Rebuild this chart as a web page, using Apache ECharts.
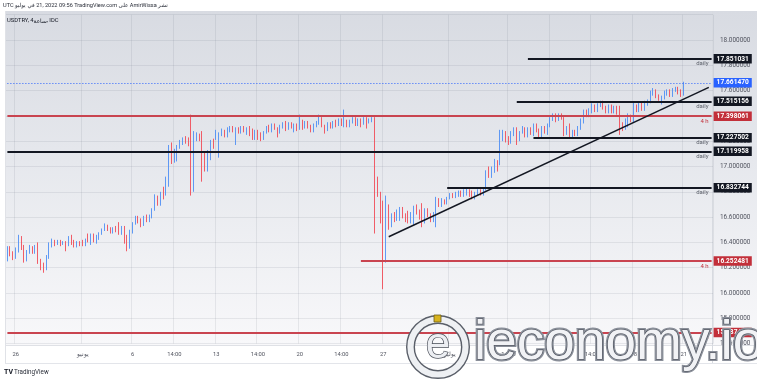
<!DOCTYPE html>
<html><head><meta charset="utf-8">
<script src="https://cdn.jsdelivr.net/npm/echarts@6/dist/echarts.min.js"></script>
<style>
html,body{margin:0;padding:0;background:#fff;}
#wrap{position:relative;width:757px;height:380px;overflow:hidden;background:#fff;}
#bg{position:absolute;left:5px;top:11px;width:752px;height:334px;background:linear-gradient(180deg,#d8dbe2 0%,#e6e8ed 45%,#f8f8fa 100%);}
#c{position:absolute;left:0;top:0;width:757px;height:380px;}
</style>
</head><body><div id="wrap"><div id="bg"></div><div id="c"></div></div>
<script>
// ---- data (4h candles, USDTRY) ----
const opens = [
16.27,16.35,16.31,16.29,16.34,16.42,16.36,16.28,16.33,16.36,
16.33,16.38,16.25,16.22,16.19,16.29,16.38,16.41,16.39,16.41,
16.39,16.40,16.38,16.44,16.40,16.37,16.40,16.41,16.38,16.46,
16.42,16.46,16.42,16.43,16.47,16.50,16.53,16.50,16.48,16.51,
16.54,16.47,16.52,16.45,16.36,16.48,16.55,16.60,16.57,16.54,
16.60,16.57,16.60,16.66,16.76,16.70,16.80,16.78,16.86,17.17,
17.05,17.10,17.16,17.19,17.23,17.21,17.23,16.82,17.22,17.25,
17.26,17.10,17.00,17.10,17.20,17.22,17.20,17.25,17.28,17.24,
17.29,17.31,17.26,17.30,17.27,17.31,17.27,17.31,17.28,17.22,
17.28,17.25,17.22,17.27,17.31,17.28,17.33,17.30,17.27,17.32,
17.34,17.30,17.34,17.31,17.33,17.30,17.36,17.31,17.35,17.32,
17.29,17.33,17.35,17.38,17.32,17.29,17.34,17.31,17.35,17.33,
17.37,17.34,17.36,17.32,17.36,17.38,17.33,17.37,17.34,17.38,
17.35,17.37,17.38,16.89,16.78,16.71,16.25,16.68,16.54,16.62,
16.58,16.59,16.67,16.62,16.60,16.56,16.59,16.68,16.64,16.69,
16.56,16.66,16.62,16.57,16.58,16.74,16.69,16.73,16.71,16.75,
16.78,16.76,16.78,16.80,16.77,16.79,16.81,16.80,16.75,16.79,
16.81,16.78,16.82,16.99,16.92,16.97,17.04,17.02,17.24,17.27,
17.22,17.19,17.25,17.30,17.21,17.27,17.30,17.24,17.30,17.25,
17.33,17.29,17.24,17.31,17.26,17.32,17.37,17.41,17.37,17.41,
17.37,17.26,17.31,17.24,17.28,17.25,17.30,17.35,17.44,17.40,
17.44,17.48,17.44,17.48,17.51,17.47,17.43,17.48,17.43,17.47,
17.45,17.34,17.30,17.35,17.40,17.36,17.48,17.44,17.50,17.45,
17.50,17.51,17.57,17.60,17.56,17.53,17.54,17.57,17.60,17.56,
17.60,17.62,17.60,17.57];
const closes = [
16.35,16.31,16.29,16.34,16.42,16.36,16.28,16.33,16.36,16.33,
16.37,16.25,16.20,16.17,16.29,16.39,16.41,16.39,16.41,16.39,
16.40,16.38,16.44,16.40,16.37,16.40,16.38,16.38,16.42,16.42,
16.46,16.42,16.45,16.47,16.50,16.53,16.50,16.48,16.51,16.49,
16.47,16.52,16.41,16.35,16.49,16.55,16.60,16.57,16.54,16.60,
16.57,16.61,16.66,16.76,16.70,16.79,16.76,16.91,17.15,17.05,
17.12,17.16,17.19,17.22,17.19,17.18,16.93,17.27,17.25,17.22,
17.07,16.98,17.12,17.20,17.16,17.28,17.26,17.29,17.24,17.29,
17.31,17.28,17.30,17.27,17.31,17.28,17.30,17.25,17.22,17.28,
17.23,17.21,17.27,17.31,17.28,17.33,17.30,17.26,17.32,17.34,
17.30,17.34,17.31,17.33,17.30,17.36,17.31,17.35,17.32,17.29,
17.33,17.35,17.38,17.32,17.29,17.34,17.31,17.35,17.33,17.37,
17.34,17.36,17.32,17.36,17.38,17.33,17.37,17.34,17.38,17.35,
17.37,17.38,16.80,16.79,16.61,16.26,16.75,16.54,16.62,16.58,
16.65,16.67,16.62,16.58,16.56,16.63,16.68,16.64,16.60,16.54,
16.66,16.62,16.57,16.63,16.74,16.70,16.74,16.71,16.75,16.78,
16.76,16.79,16.80,16.77,16.80,16.81,16.78,16.75,16.79,16.81,
16.78,16.82,16.96,16.92,16.99,17.05,16.98,17.25,17.28,17.21,
17.18,17.27,17.30,17.21,17.27,17.30,17.24,17.30,17.26,17.32,
17.28,17.24,17.31,17.27,17.33,17.38,17.41,17.37,17.41,17.38,
17.25,17.31,17.24,17.28,17.25,17.31,17.36,17.44,17.40,17.45,
17.48,17.44,17.49,17.51,17.46,17.43,17.48,17.43,17.47,17.42,
17.31,17.30,17.37,17.40,17.36,17.49,17.44,17.50,17.45,17.51,
17.52,17.59,17.61,17.55,17.53,17.55,17.58,17.60,17.56,17.61,
17.62,17.58,17.56,17.66147];
const lows = [
16.25,16.29,16.26,16.27,16.32,16.34,16.24,16.25,16.31,16.31,
16.31,16.23,16.18,16.16,16.18,16.27,16.36,16.37,16.38,16.37,
16.38,16.33,16.37,16.38,16.36,16.36,16.37,16.37,16.37,16.40,
16.38,16.40,16.39,16.42,16.46,16.49,16.49,16.47,16.47,16.48,
16.46,16.46,16.39,16.33,16.35,16.47,16.54,16.55,16.52,16.53,
16.56,16.56,16.59,16.65,16.69,16.69,16.74,16.77,16.84,17.02,
17.03,17.04,17.14,17.17,17.18,17.16,16.77,16.80,17.20,17.20,
16.88,16.96,16.96,17.05,17.14,17.21,17.07,17.24,17.23,17.23,
17.27,17.27,17.17,17.26,17.26,17.27,17.25,17.24,17.21,17.21,
17.21,17.20,17.21,17.26,17.27,17.27,17.29,17.23,17.26,17.30,
17.28,17.29,17.30,17.27,17.28,17.29,17.29,17.30,17.30,17.27,
17.27,17.31,17.33,17.31,17.26,17.28,17.30,17.30,17.31,17.32,
17.32,17.31,17.31,17.31,17.34,17.32,17.32,17.31,17.33,17.30,
17.34,17.35,16.47,16.76,16.55,16.03,16.24,16.50,16.52,16.56,
16.57,16.57,16.59,16.56,16.55,16.55,16.54,16.62,16.58,16.52,
16.55,16.60,16.56,16.56,16.52,16.68,16.68,16.70,16.70,16.74,
16.75,16.75,16.76,16.76,16.76,16.77,16.76,16.74,16.74,16.77,
16.77,16.77,16.81,16.91,16.91,16.95,16.96,17.01,17.20,17.19,
17.17,17.18,17.24,17.17,17.20,17.26,17.23,17.23,17.25,17.24,
17.27,17.22,17.23,17.26,17.25,17.31,17.36,17.35,17.36,17.37,
17.24,17.25,17.23,17.23,17.24,17.24,17.29,17.34,17.39,17.39,
17.42,17.43,17.43,17.47,17.45,17.42,17.42,17.42,17.42,17.41,
17.25,17.28,17.29,17.31,17.35,17.35,17.43,17.43,17.44,17.44,
17.48,17.50,17.56,17.54,17.52,17.49,17.53,17.56,17.55,17.55,
17.59,17.57,17.55,17.56];
const highs = [
16.37,16.37,16.33,16.36,16.46,16.45,16.38,16.34,16.38,16.37,
16.38,16.40,16.27,16.24,16.30,16.40,16.43,16.42,16.42,16.42,
16.41,16.41,16.45,16.46,16.42,16.41,16.41,16.42,16.43,16.47,
16.47,16.47,16.46,16.48,16.51,16.55,16.54,16.52,16.52,16.53,
16.56,16.53,16.53,16.46,16.50,16.56,16.61,16.61,16.59,16.61,
16.62,16.62,16.67,16.78,16.77,16.80,16.84,16.92,17.17,17.19,
17.14,17.17,17.21,17.23,17.24,17.23,17.41,17.28,17.27,17.26,
17.28,17.12,17.13,17.21,17.22,17.29,17.27,17.30,17.29,17.31,
17.32,17.32,17.31,17.31,17.32,17.32,17.31,17.32,17.30,17.29,
17.29,17.27,17.28,17.32,17.33,17.34,17.34,17.31,17.33,17.35,
17.36,17.35,17.35,17.34,17.34,17.41,17.37,17.36,17.36,17.33,
17.34,17.36,17.41,17.39,17.33,17.35,17.35,17.36,17.37,17.38,
17.38,17.45,17.37,17.37,17.39,17.39,17.38,17.38,17.39,17.39,
17.38,17.39,17.39,16.92,16.80,16.73,16.77,16.70,16.63,16.64,
16.66,16.68,16.68,16.63,16.65,16.64,16.69,16.70,16.66,16.71,
16.67,16.67,16.63,16.64,16.76,16.75,16.75,16.74,16.76,16.79,
16.79,16.80,16.81,16.81,16.82,16.83,16.82,16.81,16.80,16.82,
16.82,16.83,16.97,17.00,17.00,17.06,17.05,17.29,17.29,17.28,
17.24,17.28,17.31,17.31,17.28,17.32,17.31,17.31,17.31,17.34,
17.34,17.30,17.32,17.32,17.34,17.39,17.42,17.42,17.42,17.42,
17.39,17.32,17.34,17.29,17.29,17.32,17.38,17.45,17.45,17.46,
17.50,17.49,17.50,17.52,17.52,17.48,17.49,17.49,17.48,17.48,
17.48,17.35,17.38,17.42,17.41,17.51,17.49,17.51,17.51,17.52,
17.53,17.60,17.62,17.61,17.57,17.56,17.60,17.61,17.61,17.62,
17.63,17.63,17.61,17.67];
const futureBars = 10;
const xTickLabels = [[3,'26'],[27,'يونيو'],[45,'6'],[60,'14:00'],[75,'13'],[90,'14:00'],[105,'20'],[120,'14:00'],[135,'27'],[159,'يوليو'],[180,'14:00'],[195,'11'],[210,'14:00'],[225,'18'],[243,'21']];
const yMin = 15.6, yMax = 18.2, yStep = 0.2;
const levelValues = [17.851031, 17.515156, 17.398061, 17.227502, 17.119958, 16.832744, 16.252481, 15.687467];
const levelStarts = [187, 183, 0, 189, 0, 158, 127, 0];
const levelTags   = ['daily','daily','4 h','daily','daily','daily','4 h','4 h'];
const currentPrice = 17.661470;
const trendStart = [137, 16.445];
const trendEnd = [252, 17.626];

// ---- chart ----
const nCat = opens.length + futureBars;
const categories = Array.from({length: nCat}, (_, i) => String(i));
const labelMap = new Map(xTickLabels);
const lastIdx = nCat - 1;
const ohlc = opens.map((o, i) => [o, closes[i], lows[i], highs[i]]);
const UP = '#4f8ff4', DOWN = '#f04c58';
const BLACK = '#131722', RED = '#c22f3a', REDLINE = '#c94450', BLUE = '#2962ff';
const FONT = 'Roboto';

const mlData = [];
levelValues.forEach((v, i) => {
  const tag = levelTags[i];
  const isDaily = tag === 'daily';
  mlData.push([
    {coord: [levelStarts[i], v], lineStyle: {color: isDaily ? BLACK : REDLINE, width: isDaily ? 2 : 1.8, type: 'solid'},
     label: {show: true, position: 'end', formatter: v.toFixed(6), backgroundColor: isDaily ? BLACK : RED, color: '#fff',
             fontSize: 6.6, fontWeight: 'bold', fontFamily: FONT, padding: [1.5, 3, 1, 3], distance: 2}},
    {coord: [lastIdx, v]}
  ]);
  mlData.push([
    {coord: [levelStarts[i], v], lineStyle: {color: 'rgba(0,0,0,0)', width: 0.01},
     label: {show: true, position: 'insideEndBottom', formatter: tag, color: isDaily ? '#5d616b' : RED,
             fontSize: 6, fontFamily: FONT, distance: [3, 2]}},
    {coord: [lastIdx, v]}
  ]);
});
mlData.push([
  {coord: [0, currentPrice], lineStyle: {color: BLUE, width: 1, type: [1, 2]},
   label: {show: true, position: 'end', formatter: currentPrice.toFixed(6), backgroundColor: BLUE, color: '#fff',
           fontSize: 6.6, fontWeight: 'bold', fontFamily: FONT, padding: [1.5, 3, 1, 3], distance: 2}},
  {coord: [lastIdx, currentPrice]}
]);
mlData.push([
  {coord: trendStart, lineStyle: {color: BLACK, width: 1.5, type: 'solid'}, label: {show: false}},
  {coord: trendEnd}
]);

const option = {
  animation: false,
  backgroundColor: 'transparent',
  grid: {left: 6, right: 44, top: 14.7, bottom: 36.4, containLabel: false, outerBoundsMode: 'none'},
  xAxis: {
    type: 'category', data: categories, boundaryGap: true,
    axisLine: {show: false}, axisTick: {show: false, alignWithLabel: true},
    axisLabel: {interval: (i) => labelMap.has(i), formatter: (v, i) => labelMap.get(i) || '',
                fontSize: 5.8, color: '#50535e', margin: 8, fontFamily: FONT},
    splitLine: {show: true, interval: (i) => labelMap.has(i), lineStyle: {color: 'rgba(100,106,122,0.12)', width: 1}}
  },
  yAxis: {
    type: 'value', position: 'right', min: yMin, max: yMax, interval: yStep,
    axisLine: {show: false}, axisTick: {show: false},
    axisLabel: {formatter: (v) => v.toFixed(6), fontSize: 6.4, color: '#50535e', margin: 7,
                showMaxLabel: false, fontFamily: FONT},
    splitLine: {show: true, lineStyle: {color: 'rgba(100,106,122,0.12)', width: 1}}
  },
  series: [{
    type: 'candlestick', data: ohlc, barWidth: 1.3,
    itemStyle: {color: UP, color0: DOWN, borderColor: UP, borderColor0: DOWN, borderWidth: 0.9},
    markLine: {silent: true, symbol: ['none', 'none'], animation: false, data: mlData}
  }],
  graphic: [
    {type: 'line', shape: {x1: 5, y1: 345.5, x2: 757, y2: 345.5}, style: {stroke: '#dfe1e6', lineWidth: 1}, silent: true},
    {type: 'line', shape: {x1: 5, y1: 363.5, x2: 757, y2: 363.5}, style: {stroke: '#e3e5ea', lineWidth: 1}, silent: true},
    {type: 'line', shape: {x1: 712.5, y1: 11, x2: 712.5, y2: 363}, style: {stroke: '#d7dae0', lineWidth: 1}, silent: true},
    {type: 'line', shape: {x1: 5.5, y1: 11, x2: 5.5, y2: 363}, style: {stroke: '#e0e2e7', lineWidth: 1}, silent: true},
    {type: 'text', x: 3, y: 6, silent: true, style: {
      text: '{l|UTC }{r|في يوليو}{l| 21, 2022 09:56 TradingView.com }{r|على}{l| AmirWissa }{r|نشر}',
      verticalAlign: 'middle',
      rich: {l: {fontSize: 5.6, fontFamily: FONT, fill: '#2a2e39'}, r: {fontSize: 5.6, fontFamily: 'DejaVu Sans', fill: '#2a2e39'}}}},
    {type: 'text', x: 7, y: 21, silent: true, style: {
      text: '{l|USDTRY, 4}{r|ساعة}{l|, IDC}',
      verticalAlign: 'middle',
      rich: {l: {fontSize: 5.8, fontFamily: FONT, fill: '#131722'}, r: {fontSize: 5.8, fontFamily: 'DejaVu Sans', fill: '#131722'}}}},
    {type: 'text', x: 4, y: 372, silent: true, style: {text: 'TV', font: 'bold 7px ' + FONT, fill: '#131722', verticalAlign: 'middle'}},
    {type: 'text', x: 14, y: 372, silent: true, style: {text: 'TradingView', font: '6.3px ' + FONT, fill: '#2a2e39', verticalAlign: 'middle'}},
    // watermark
    {type: 'circle', z: 100, silent: true, shape: {cx: 438, cy: 347, r: 27.5}, style: {fill: 'none', stroke: '#5a5f69', lineWidth: 9}},
    {type: 'circle', z: 101, silent: true, shape: {cx: 438, cy: 347, r: 27.5}, style: {fill: 'none', stroke: '#eef0f3', lineWidth: 6.2}},
    {type: 'text', z: 102, silent: true, x: 438, y: 346, style: {text: 'e', font: '44px "Liberation Sans"', fill: '#eceef2', stroke: '#4a4f59', lineWidth: 1.4, align: 'center', verticalAlign: 'middle'}},
    {type: 'rect', z: 103, silent: true, shape: {x: 434, y: 315, width: 7, height: 7}, style: {fill: '#d8b31f', stroke: '#6b5a14', lineWidth: 0.8}},
    {type: 'text', z: 101, silent: true, x: 474, y: 343.5, style: {text: 'ieconomy.io', font: '55px "Liberation Sans"', fill: 'none', stroke: '#8a8f99', lineWidth: 4, verticalAlign: 'middle'}},
    {type: 'text', z: 102, silent: true, x: 474, y: 343.5, style: {text: 'ieconomy.io', font: '55px "Liberation Sans"', fill: '#f1f2f5', stroke: '#444954', lineWidth: 1.1, verticalAlign: 'middle'}}
  ]
};
const chart = echarts.init(document.getElementById('c'), null, {renderer: 'canvas', width: 757, height: 380});
chart.setOption(option);
</script>
</body></html>
